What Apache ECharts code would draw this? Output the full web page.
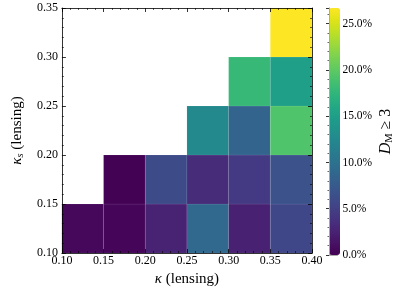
<!DOCTYPE html>
<html><head><meta charset="utf-8">
<script src="https://cdn.jsdelivr.net/npm/echarts@6/dist/echarts.min.js"></script>
<style>html,body{margin:0;padding:0;background:#fff}#c{width:396px;height:292px}</style>
</head><body><div id="c"></div>
<script>
// Lower-left corners of each cell (kappa, kappa_s) and the value (%)
const kappaStart  = [0.10, 0.15, 0.20, 0.25, 0.30, 0.35,  0.15, 0.20, 0.25, 0.30, 0.35,  0.25, 0.30, 0.35,  0.30, 0.35,  0.35];
const kappaSStart = [0.10, 0.10, 0.10, 0.10, 0.10, 0.10,  0.15, 0.15, 0.15, 0.15, 0.15,  0.20, 0.20, 0.20,  0.25, 0.25,  0.30];
const fraction    = [0.5,  0.4,  2.6,  9.0,  2.4,  5.6,   0.1,  6.0,  3.3,  4.5,  6.7,   12.5, 8.5,  19.3,  17.9, 15.0,  26.7];
const binWidth = 0.05;
const xTicks = [0.10, 0.40, 0.05];
const yTicks = [0.10, 0.35, 0.05];
const cbarRange = [0, 26.7, 5];
const viridis = ['#440154','#471365','#482475','#463480','#414487','#3b528b','#355f8d','#2f6c8e','#2a788e','#25848e','#21918c','#1e9c89','#22a884','#2fb47c','#44bf70','#5ec962','#7ad151','#9bd93c','#bddf26','#dfe318','#fde725'];

const data = kappaStart.map((k, i) => [k, kappaSStart[i], fraction[i]]);
const FONT = 'Liberation Serif';
const axCommon = {
  axisLine: {show: true, lineStyle: {color: '#000', width: 0.8}},
  axisTick: {show: true, inside: true, length: 4, lineStyle: {color: '#000', width: 0.8}},
  minorTick: {show: true, splitNumber: 5, length: 2, lineStyle: {color: '#000', width: 0.6}},
  splitLine: {show: false}
};
const chart = echarts.init(document.getElementById('c'));
chart.setOption({
  animation: false,
  textStyle: {fontFamily: FONT},
  grid: [
    {left: 48, right: 84, top: 8, bottom: 37},
    {left: 329, width: 11, top: 8, bottom: 37}
  ],
  xAxis: [
    Object.assign({type: 'value', gridIndex: 0, position: 'bottom', min: xTicks[0], max: xTicks[1], interval: xTicks[2],
      axisLabel: {color: '#000', fontSize: 12, fontFamily: FONT, margin: 2, formatter: v => v.toFixed(2)},
      name: '{i|κ} (lensing)', nameLocation: 'middle', nameGap: 15,
      nameTextStyle: {color: '#000', fontSize: 15, fontFamily: FONT, verticalAlign: 'top',
        rich: {i: {fontStyle: 'italic', fontSize: 15, fontFamily: FONT}}}, z: 10}, axCommon),
    Object.assign({type: 'value', gridIndex: 0, position: 'top', min: xTicks[0], max: xTicks[1], interval: xTicks[2],
      axisLabel: {show: false}, z: 10}, axCommon),
    {type: 'value', gridIndex: 1, position: 'bottom', min: 0, max: 1, axisLine: {show: true, lineStyle: {color: '#aaa', width: 0.8}}, axisTick: {show: false}, axisLabel: {show: false}, splitLine: {show: false}, z: 10},
    {type: 'value', gridIndex: 1, position: 'top', min: 0, max: 1, axisLine: {show: true, lineStyle: {color: '#aaa', width: 0.8}}, axisTick: {show: false}, axisLabel: {show: false}, splitLine: {show: false}, z: 10}
  ],
  yAxis: [
    Object.assign({type: 'value', gridIndex: 0, position: 'left', min: yTicks[0], max: yTicks[1], interval: yTicks[2],
      axisLabel: {color: '#000', fontSize: 12, fontFamily: FONT, margin: 4, formatter: v => v.toFixed(2)},
      name: '{i|κ}{s|s} (lensing)', nameLocation: 'middle', nameGap: 28, nameRotate: 90,
      nameTextStyle: {color: '#000', fontSize: 15, fontFamily: FONT, lineHeight: 18,
        rich: {i: {fontStyle: 'italic', fontSize: 15, fontFamily: FONT, lineHeight: 18},
               s: {fontStyle: 'italic', fontSize: 10.5, fontFamily: FONT, verticalAlign: 'bottom', lineHeight: 12}}}, z: 10}, axCommon),
    Object.assign({type: 'value', gridIndex: 0, position: 'right', min: yTicks[0], max: yTicks[1], interval: yTicks[2],
      axisLabel: {show: false}, z: 10}, axCommon),
    {type: 'value', gridIndex: 1, position: 'left', min: cbarRange[0], max: cbarRange[1],
      axisLine: {show: true, lineStyle: {color: '#aaa', width: 0.8}}, axisTick: {show: false}, axisLabel: {show: false}, splitLine: {show: false}, z: 10},
    {type: 'value', gridIndex: 1, position: 'right', min: cbarRange[0], max: cbarRange[1], interval: cbarRange[2],
      axisLine: {show: true, lineStyle: {color: '#aaa', width: 0.8}},
      axisTick: {show: true, inside: true, length: 3, lineStyle: {color: '#000', width: 0.8}},
      minorTick: {show: true, splitNumber: 5, length: 1.5, lineStyle: {color: '#000', width: 0.6}},
      splitLine: {show: false},
      axisLabel: {color: '#000', fontSize: 11.5, fontFamily: FONT, margin: 5, showMaxLabel: false,
        formatter: v => (Math.abs(v / 5 - Math.round(v / 5)) < 1e-6 ? v.toFixed(1) + '%' : '')},
      name: '{i|D}{s|M} ≥ 3', nameLocation: 'middle', nameGap: 37, nameRotate: 90,
      nameTextStyle: {color: '#000', fontSize: 16, fontFamily: FONT, lineHeight: 19,
        rich: {i: {fontStyle: 'italic', fontSize: 16, fontFamily: FONT, lineHeight: 19},
               s: {fontSize: 10.5, fontFamily: FONT, verticalAlign: 'bottom', lineHeight: 13}}}, z: 10}
  ],
  visualMap: {
    type: 'continuous', seriesIndex: 0, dimension: 2, min: cbarRange[0], max: cbarRange[1],
    orient: 'vertical', left: 329, top: 8, itemWidth: 11, itemHeight: 247, padding: 0,
    calculable: false, hoverLink: false, inRange: {color: viridis}, z: 2
  },
  series: [{
    type: 'custom', xAxisIndex: 0, yAxisIndex: 0, data: data, encode: {x: 0, y: 1},
    renderItem: function (params, api) {
      const x0 = api.value(0), y0 = api.value(1);
      const p0 = api.coord([x0, y0]);
      const p1 = api.coord([x0 + binWidth, y0 + binWidth]);
      return {type: 'rect', shape: {x: p0[0], y: p1[1], width: p1[0] - p0[0], height: p0[1] - p1[1]},
        style: {fill: api.visual('color'), stroke: 'rgba(255,255,255,0.12)', lineWidth: 0.6}};
    }
  }]
});
</script></body></html>
